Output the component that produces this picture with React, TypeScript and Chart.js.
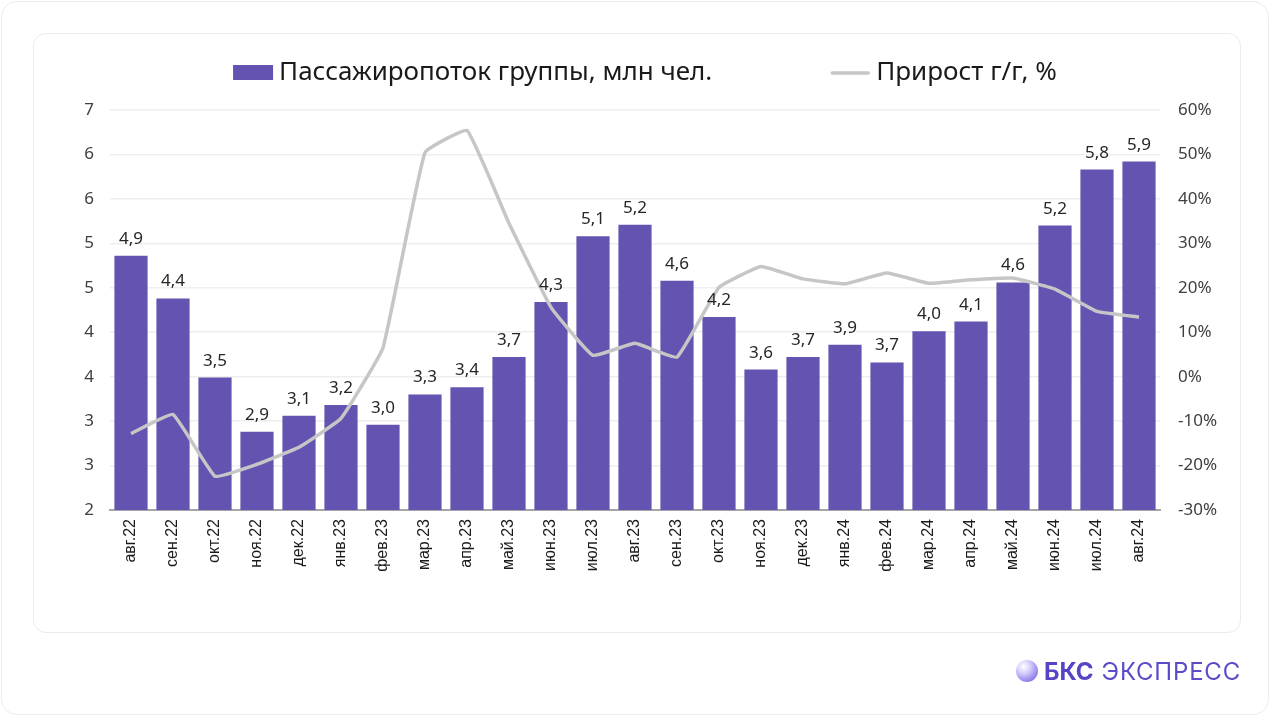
import React, { useEffect, useRef } from "react";
import { Chart, registerables } from "chart.js";

Chart.register(...registerables);

const categories = [
  "авг.22", "сен.22", "окт.22", "ноя.22", "дек.22", "янв.23", "фев.23", "мар.23", "апр.23",
  "май.23", "июн.23", "июл.23", "авг.23", "сен.23", "окт.23", "ноя.23", "дек.23", "янв.24",
  "фев.24", "мар.24", "апр.24", "май.24", "июн.24", "июл.24", "авг.24",
];

const passengers = [
  4.86, 4.38, 3.49, 2.88, 3.06, 3.18, 2.96, 3.3, 3.38, 3.72, 4.34, 5.08, 5.21, 4.58, 4.17,
  3.58, 3.72, 3.86, 3.66, 4.01, 4.12, 4.56, 5.2, 5.83, 5.92,
];

const growth = [
  -12.8, -8.5, -22.4, -19.7, -15.9, -9.4, 6.5, 50.4, 55.4, 34.5, 15.6, 4.8, 7.5, 4.4, 20.1,
  24.8, 22.0, 20.9, 23.3, 21.0, 21.8, 22.2, 19.7, 14.7, 13.4,
];

const seriesNames = ["Пассажиропоток группы, млн чел.", "Прирост г/г, %"];

const leftTicks = { min: 2, max: 6.5, step: 0.5 };
const rightTicks = { min: -30, max: 60, step: 10 };

const BAR_COLOR = "#6553B2";
const LINE_COLOR = "#c6c6c6";
const FONT = "'Noto Sans', 'Open Sans', sans-serif";

const dataLabelPlugin = {
  id: "dataLabels",
  afterDatasetsDraw(chart: any) {
    const meta = chart.getDatasetMeta(0);
    const ctx = chart.ctx;
    ctx.save();
    ctx.font = `17px ${FONT}`;
    ctx.fillStyle = "#262626";
    ctx.textAlign = "center";
    ctx.textBaseline = "alphabetic";
    meta.data.forEach((bar: any, i: number) => {
      const v = chart.data.datasets[0].data[i] as number;
      const txt = v.toFixed(1).replace(".", ",");
      ctx.fillText(txt, bar.x, bar.y - 12);
    });
    ctx.restore();
  },
};

const legendPlugin = {
  id: "customLegend",
  afterDraw(chart: any) {
    const ctx = chart.ctx;
    const ds = chart.data.datasets;
    ctx.save();
    ctx.font = `26px ${FONT}`;
    ctx.textBaseline = "middle";
    ctx.textAlign = "left";
    const box = 40;
    const gap = 6;
    const spacing = 118;
    const w1 = ctx.measureText(ds[0].label).width;
    const w2 = ctx.measureText(ds[1].label).width;
    const total = box + gap + w1 + spacing + box + gap + w2;
    const cx = (chart.chartArea.left + chart.chartArea.right) / 2 + 10;
    let x = cx - total / 2;
    const y = 73;
    ctx.fillStyle = ds[0].backgroundColor;
    ctx.fillRect(x, y - 8, box, 15);
    x += box + gap;
    ctx.fillStyle = "#1a1a1a";
    ctx.fillText(ds[0].label, x, y);
    x += w1 + spacing;
    ctx.strokeStyle = ds[1].borderColor;
    ctx.lineWidth = 3.5;
    ctx.lineCap = "round";
    ctx.beginPath();
    ctx.moveTo(x + 2, y);
    ctx.lineTo(x + box - 2, y);
    ctx.stroke();
    x += box + gap;
    ctx.fillText(ds[1].label, x, y);
    ctx.restore();
  },
};

export default function App() {
  const canvasRef = useRef<HTMLCanvasElement | null>(null);

  useEffect(() => {
    if (!canvasRef.current) return;
    const chart = new Chart(canvasRef.current, {
      type: "bar",
      data: {
        labels: categories,
        datasets: [
          {
            type: "bar",
            label: seriesNames[0],
            data: passengers,
            backgroundColor: BAR_COLOR,
            borderWidth: 0,
            barPercentage: 0.79,
            categoryPercentage: 1.0,
            yAxisID: "y",
            order: 2,
          },
          {
            type: "line",
            label: seriesNames[1],
            data: growth,
            borderColor: LINE_COLOR,
            backgroundColor: LINE_COLOR,
            borderWidth: 3.5,
            pointRadius: 0,
            tension: 0.1,
            yAxisID: "y2",
            order: 1,
          },
        ],
      },
      options: {
        animation: false,
        responsive: false,
        maintainAspectRatio: false,
        layout: { padding: { left: 40, right: 33, top: 110, bottom: 109 } },
        plugins: {
          legend: { display: false },
          tooltip: { enabled: false },
        },
        scales: {
          x: {
            grid: { display: false, drawTicks: false },
            border: { display: true, color: "#a6a6a6", width: 2 },
            ticks: {
              minRotation: 90,
              maxRotation: 90,
              autoSkip: false,
              padding: 9,
              color: "#1a1a1a",
              font: { family: "'Liberation Sans Narrow', 'Liberation Sans', Arial, sans-serif", size: 16 },
            },
            afterFit: (s: any) => {
              s.height = 100;
            },
          },
          y: {
            position: "left",
            min: leftTicks.min,
            max: leftTicks.max,
            grid: { color: "#eeeeee", lineWidth: 1.5, drawTicks: false },
            border: { display: false },
            ticks: {
              stepSize: leftTicks.step,
              padding: 16,
              color: "#404040",
              font: { family: FONT, size: 17 },
              callback: (v: any) => String(Math.round(Number(v))),
            },
            afterFit: (s: any) => {
              s.width = 70;
            },
          },
          y2: {
            position: "right",
            min: rightTicks.min,
            max: rightTicks.max,
            grid: { display: false, drawTicks: false },
            border: { display: false },
            ticks: {
              stepSize: rightTicks.step,
              padding: 18,
              color: "#404040",
              font: { family: FONT, size: 17 },
              callback: (v: any) => `${Math.round(Number(v))}%`,
            },
            afterFit: (s: any) => {
              s.width = 80;
            },
          },
        },
      },
      plugins: [dataLabelPlugin, legendPlugin],
    });
    return () => chart.destroy();
  }, []);

  return (
    <div style={{ position: "fixed", left: 0, top: 0, width: 1273, height: 719, background: "#fff", overflow: "hidden" }}>
      <div
        style={{
          position: "absolute", left: 1, top: 1, width: 1268, height: 714,
          border: "1.5px solid #ececec", borderRadius: 16, boxSizing: "border-box",
        }}
      />
      <div
        style={{
          position: "absolute", left: 33, top: 33, width: 1208, height: 600,
          border: "1.5px solid #ebebeb", borderRadius: 13, boxSizing: "border-box",
        }}
      />
      <canvas ref={canvasRef} width={1273} height={719} style={{ position: "absolute", left: 0, top: 0, width: 1273, height: 719 }} />
      <div style={{ position: "absolute", left: 1016, top: 658, display: "flex", alignItems: "center", height: 26 }}>
        <div
          style={{
            width: 22, height: 22, borderRadius: "50%", marginRight: 6,
            background: "radial-gradient(circle at 35% 30%, #ffffff 0%, #d9d3fb 30%, #9d8ef0 65%, #6a57d8 100%)",
          }}
        />
        <span style={{ fontFamily: "Inter, 'Noto Sans', sans-serif", fontSize: 24, fontWeight: 700, color: "#5445c4" }}>
          БКС
        </span>
        <span style={{ fontFamily: "Inter, 'Noto Sans', sans-serif", fontSize: 24, fontWeight: 400, color: "#5a4cc8", marginLeft: 8, letterSpacing: 0.8 }}>
          ЭКСПРЕСС
        </span>
      </div>
    </div>
  );
}
